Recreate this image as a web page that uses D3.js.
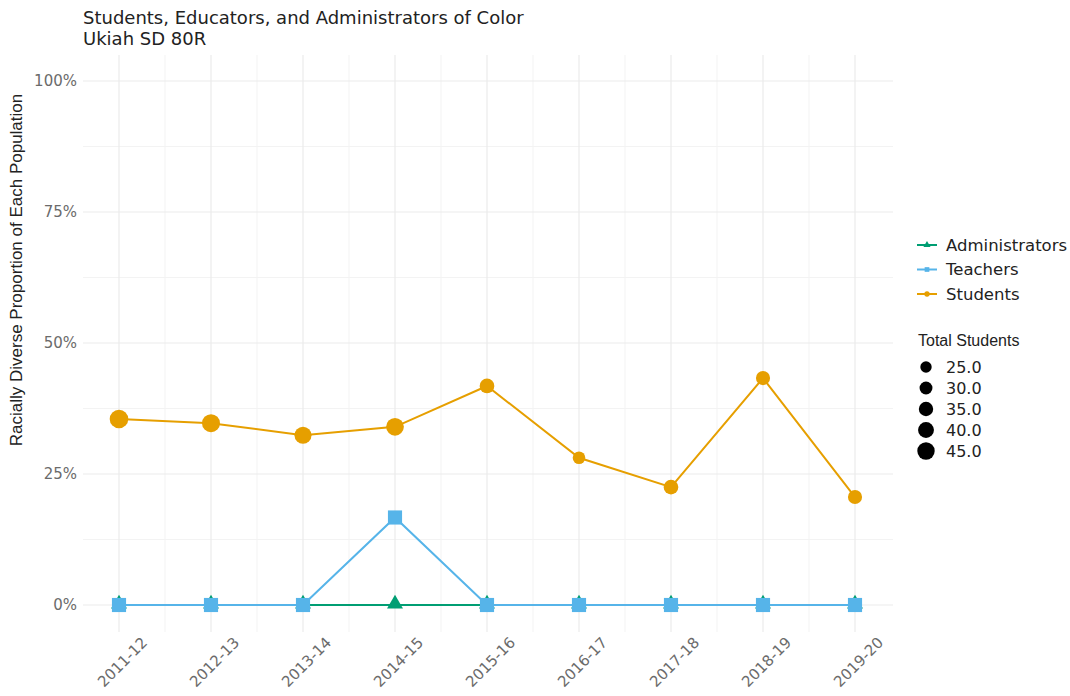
<!DOCTYPE html>
<html>
<head>
<meta charset="utf-8">
<script src="https://cdn.jsdelivr.net/npm/d3@7"></script>
<style>
  body { margin: 0; background: #fff; }
  text { font-family: "DejaVu Sans", Verdana, sans-serif; }
</style>
</head>
<body>
<div id="chart"></div>
<script>
// valores
var anos = ['2011-12', '2012-13', '2013-14', '2014-15', '2015-16', '2016-17', '2017-18', '2018-19', '2019-20'];
var alunos = [0.355, 0.347, 0.324, 0.340, 0.418, 0.281, 0.225, 0.433, 0.206];
var professores = [0, 0, 0, 0.167, 0, 0, 0, 0, 0];
var administradores = [0, 0, 0, 0, 0, 0, 0, 0, 0];
var totalAlunos = [47, 45, 42, 44, 34, 27, 34, 32, 32];
var yTicks = [0, 0.25, 0.5, 0.75, 1];
var yMinor = [0.125, 0.375, 0.625, 0.875];
var sizeBreaks = [25, 30, 35, 40, 45];

var verde = '#009E73', azul = '#56B4E9', laranja = '#E69F00';
var largura = 1070, altura = 696;

var svg = d3.select('#chart').append('svg')
    .attr('width', largura)
    .attr('height', altura);

// escalas
var x = d3.scalePoint().domain(anos).range([119, 855]);
var y = d3.scaleLinear().domain([0, 1]).range([605, 81]);
var r = d3.scaleLinear().domain([25, 45]).range([6, 9]);
var painel = { x0: 83, x1: 893, y0: 55, y1: 632 };

// grade
var grade = svg.append('g');
grade.selectAll('.hmin').data(yMinor).enter().append('line')
    .attr('x1', painel.x0).attr('x2', painel.x1)
    .attr('y1', function (d) { return y(d); }).attr('y2', function (d) { return y(d); })
    .style('stroke', '#f3f3f3').style('stroke-width', 1);
var meios = anos.slice(1).map(function (a, i) { return (x(a) + x(anos[i])) / 2; });
grade.selectAll('.vmin').data(meios).enter().append('line')
    .attr('x1', function (d) { return d; }).attr('x2', function (d) { return d; })
    .attr('y1', painel.y0).attr('y2', painel.y1)
    .style('stroke', '#f3f3f3').style('stroke-width', 1);
grade.selectAll('.hmaj').data(yTicks).enter().append('line')
    .attr('x1', painel.x0).attr('x2', painel.x1)
    .attr('y1', function (d) { return y(d); }).attr('y2', function (d) { return y(d); })
    .style('stroke', '#ebebeb').style('stroke-width', 1.2);
grade.selectAll('.vmaj').data(anos).enter().append('line')
    .attr('x1', function (d) { return x(d); }).attr('x2', function (d) { return x(d); })
    .attr('y1', painel.y0).attr('y2', painel.y1)
    .style('stroke', '#ebebeb').style('stroke-width', 1.2);

// eixo y
var eixoY = svg.append('g')
    .attr('transform', 'translate(' + painel.x0 + ',0)')
    .call(d3.axisLeft(y).tickValues(yTicks).tickFormat(d3.format('.0%')).tickSize(0).tickPadding(6));
eixoY.select('.domain').remove();
eixoY.selectAll('text').style('font-size', '15px').style('fill', '#6b6b6b')
    .style('font-family', '"DejaVu Sans", Verdana, sans-serif');

// eixo x (rótulos girados em torno do centro)
var eixoX = svg.append('g')
    .attr('transform', 'translate(0,' + painel.y1 + ')')
    .call(d3.axisBottom(x).tickSize(0).tickPadding(0));
eixoX.select('.domain').remove();
eixoX.selectAll('text')
    .style('font-size', '15px').style('fill', '#6b6b6b')
    .style('font-family', '"DejaVu Sans", Verdana, sans-serif')
    .style('text-anchor', 'middle')
    .attr('y', 0)
    .attr('dy', '0.35em')
    .attr('transform', 'translate(3,30) rotate(-45)');

// títulos
svg.append('text').attr('x', 83).attr('y', 24)
    .text('Students, Educators, and Administrators of Color')
    .style('font-size', '18px').style('fill', '#222');
svg.append('text').attr('x', 83).attr('y', 45)
    .text('Ukiah SD 80R')
    .style('font-size', '18px').style('fill', '#222');
svg.append('text')
    .attr('transform', 'translate(22,270) rotate(-90)')
    .attr('text-anchor', 'middle')
    .text('Racially Diverse Proportion of Each Population')
    .style('font-family', '"Liberation Sans", Arial, sans-serif')
    .style('font-size', '17px').style('fill', '#222');

// séries
var linha = d3.line()
    .x(function (d, i) { return x(anos[i]); })
    .y(function (d) { return y(d); });

var triangulo = d3.symbol().type(d3.symbolTriangle).size(110);
var quadrado = d3.symbol().type(d3.symbolSquare).size(200);

// administradores
svg.append('path').datum(administradores).attr('d', linha)
    .style('fill', 'none').style('stroke', verde).style('stroke-width', 2);
svg.append('g').selectAll('path').data(administradores).enter().append('path')
    .attr('d', triangulo)
    .attr('transform', function (d, i) { return 'translate(' + x(anos[i]) + ',' + (y(d) - 1) + ')'; })
    .style('fill', verde);

// professores
svg.append('path').datum(professores).attr('d', linha)
    .style('fill', 'none').style('stroke', azul).style('stroke-width', 2);
svg.append('g').selectAll('path').data(professores).enter().append('path')
    .attr('d', quadrado)
    .attr('transform', function (d, i) { return 'translate(' + x(anos[i]) + ',' + y(d) + ')'; })
    .style('fill', azul);

// alunos
svg.append('path').datum(alunos).attr('d', linha)
    .style('fill', 'none').style('stroke', laranja).style('stroke-width', 2);
svg.append('g').selectAll('circle').data(alunos).enter().append('circle')
    .attr('cx', function (d, i) { return x(anos[i]); })
    .attr('cy', function (d) { return y(d); })
    .attr('r', function (d, i) { return r(totalAlunos[i]); })
    .style('fill', laranja);

// legenda das séries
var series = [
    { nome: 'Administrators', cor: verde, tipo: d3.symbolTriangle },
    { nome: 'Teachers', cor: azul, tipo: d3.symbolSquare },
    { nome: 'Students', cor: laranja, tipo: d3.symbolCircle }
];
var leg = svg.append('g').selectAll('g').data(series).enter().append('g')
    .attr('transform', function (d, i) { return 'translate(917,' + (245 + i * 24.5) + ')'; });
leg.append('line').attr('x1', 0).attr('x2', 20).attr('y1', 0).attr('y2', 0)
    .style('stroke', function (d) { return d.cor; }).style('stroke-width', 2);
leg.append('path')
    .attr('d', function (d) { return d3.symbol().type(d.tipo).size(22)(); })
    .attr('transform', 'translate(10,0)')
    .style('fill', function (d) { return d.cor; });
leg.append('text').attr('x', 29).attr('y', 0).attr('dy', '0.35em')
    .text(function (d) { return d.nome; })
    .style('font-size', '16.5px').style('fill', '#222');

// legenda de tamanho
svg.append('text').attr('x', 918).attr('y', 346)
    .text('Total Students')
    .style('font-family', '"Liberation Sans", Arial, sans-serif')
    .style('font-size', '16px').style('fill', '#222');
var legT = svg.append('g').selectAll('g').data(sizeBreaks).enter().append('g')
    .attr('transform', function (d, i) { return 'translate(926,' + (367 + i * 21) + ')'; });
legT.append('circle').attr('r', function (d) { return r(d) - 0.3; }).style('fill', '#000');
legT.append('text').attr('x', 20).attr('dy', '0.35em')
    .text(function (d) { return d3.format('.1f')(d); })
    .style('font-size', '16px').style('fill', '#222');
</script>
</body>
</html>
